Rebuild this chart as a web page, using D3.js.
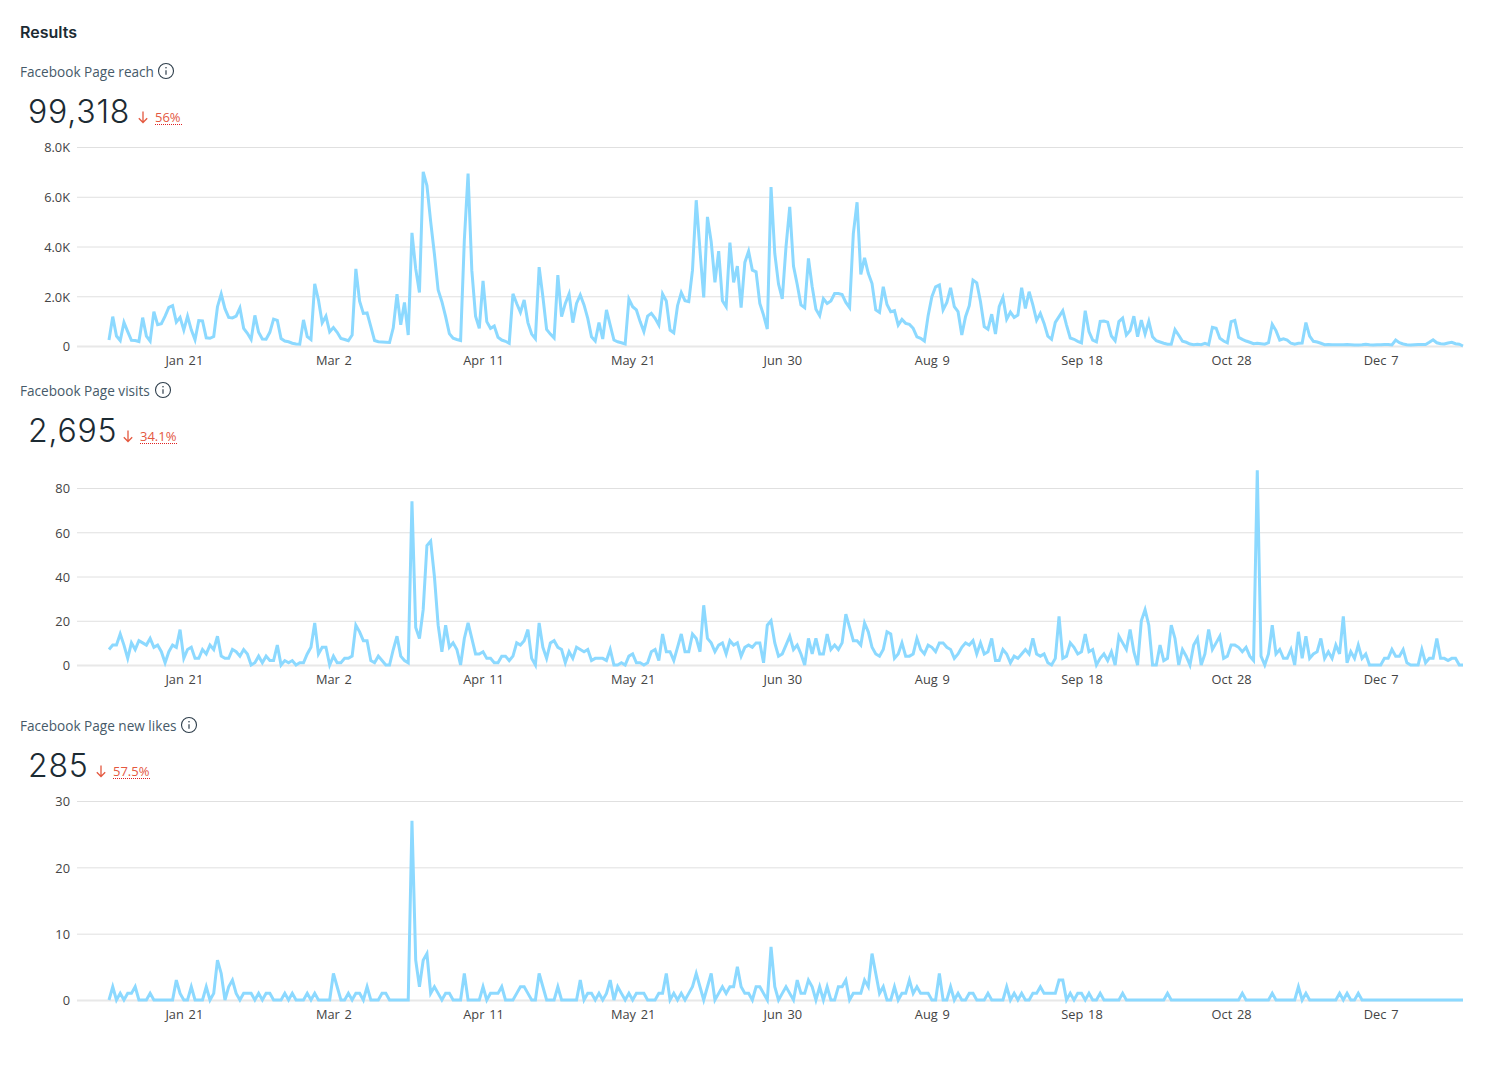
<!DOCTYPE html>
<html>
<head>
<meta charset="utf-8">
<title>Results</title>
<script src="https://cdn.jsdelivr.net/npm/d3@7"></script>
<style>
  html, body { margin: 0; background: #fff; }
  svg { display: block; }
  .tick text { font-family: "Open Sans", sans-serif; font-size: 12.8px; word-spacing: 1.5px; fill: #444; }
  .heading { font-family: Inter, sans-serif; font-size: 16px; font-weight: 600; fill: #1c2b33; }
  .metric { font-family: "Open Sans", sans-serif; font-size: 13.6px; fill: #465a69; }
  .total { font-family: Inter, sans-serif; font-size: 32px; font-weight: 300; letter-spacing: 0.8px; fill: #1c2b33; }
  .delta { font-family: "Open Sans", sans-serif; font-size: 13px; fill: #e4583f; }
</style>
</head>
<body>
<svg id="chart" width="1507" height="1069"></svg>
<script>
// Daily values, first of January onward
const reach = [
  240,1180,400,220,950,580,230,220,180,1140,
  400,200,1380,860,900,1200,1550,1620,960,1150,
  640,1200,650,250,1020,1010,330,310,380,1580,
  2090,1500,1150,1130,1200,1530,710,510,260,1230,
  550,280,270,550,1080,1030,300,200,170,110,
  80,70,1050,380,260,2500,1850,930,1200,570,
  740,550,300,260,210,440,3100,1800,1310,1330,
  780,220,170,160,150,140,730,2080,850,1750,
  440,4550,3100,2150,7000,6450,5000,3700,2250,1780,
  1180,500,310,260,220,4250,6930,3050,1200,710,
  2620,980,710,800,350,240,190,110,2100,1710,
  1350,1850,940,480,290,3170,1980,670,480,320,
  2850,1180,1710,2090,940,1710,2050,1650,1110,370,
  200,940,280,1450,840,240,170,130,80,1890,
  1580,1450,980,580,1200,1310,1110,840,2090,1810,
  640,530,1620,2150,1820,1780,3050,5860,3850,1950,
  5190,4190,2560,3810,1820,1580,4160,2560,3210,1540,
  3360,3810,3050,2980,1710,1240,680,6390,3720,2490,
  1890,3990,5590,3210,2470,1650,1540,3520,2380,1480,
  1220,1900,1710,1810,2110,2110,2070,1750,1540,4520,
  5780,2880,3540,2920,2510,1450,1350,2380,1670,1380,
  1420,840,1070,910,870,710,370,310,200,1220,
  1980,2380,2450,1450,1750,2340,1580,1380,440,1180,
  1620,2650,2540,1780,780,670,1280,480,1580,1950,
  1080,1360,1150,1240,2340,1510,2180,1650,1030,1310,
  910,400,270,950,1180,1420,840,320,270,190,
  130,1420,580,240,170,990,1000,960,400,210,
  980,1120,440,620,1200,370,1040,480,990,370,
  210,160,110,70,70,660,430,190,150,80,
  50,70,50,110,50,750,710,310,200,130,
  980,1030,350,270,200,150,90,110,90,70,
  130,870,620,240,290,240,110,70,110,120,
  940,400,190,160,110,50,60,50,50,50,
  50,60,50,40,40,50,70,50,40,50,
  50,60,60,40,240,130,80,50,40,50,
  60,60,60,150,250,130,90,80,120,150,
  90,70,0
];

const visits = [
  7,9,9,14,9,3,10,7,11,10,
  9,12,8,9,6,1,6,9,8,16,
  3,7,8,3,3,7,5,9,7,13,
  4,3,3,7,6,4,7,5,0,1,
  4,1,4,2,2,9,0,2,1,2,
  0,1,1,5,8,19,5,8,8,0,
  4,1,1,3,3,4,18,15,11,11,
  2,1,4,2,0,0,7,13,4,2,
  1,74,17,12,25,54,56,40,18,6,
  18,8,10,7,0,12,19,12,5,5,
  6,3,3,1,1,4,4,2,4,10,
  9,11,16,3,0,19,8,3,10,11,
  8,7,1,6,3,8,7,6,7,2,
  3,3,3,2,7,0,0,1,0,4,
  5,1,1,0,1,6,7,2,14,6,
  6,2,8,14,6,6,14,12,6,27,
  12,10,6,9,10,5,11,9,10,4,
  8,9,8,10,10,1,18,20,10,4,
  5,9,13,7,9,5,0,12,5,12,
  5,5,14,7,9,7,10,23,17,11,
  11,9,19,15,8,5,4,7,15,14,
  3,5,10,4,4,5,12,7,5,9,
  8,6,10,10,8,7,3,5,8,10,
  9,11,5,10,5,6,12,2,2,7,
  5,1,4,3,5,7,5,12,5,4,
  5,1,0,3,22,3,4,10,8,5,
  6,14,6,7,0,3,5,2,6,0,
  13,10,7,16,6,0,20,25,18,0,
  0,9,2,3,18,12,0,7,4,0,
  9,12,0,5,16,7,10,13,3,4,
  9,9,8,6,8,4,2,88,4,0,
  5,18,5,7,3,3,7,0,15,3,
  13,3,5,6,12,3,6,3,9,5,
  22,1,6,3,9,3,5,0,0,0,
  0,3,3,7,4,4,7,1,0,0,
  0,7,1,3,3,12,3,3,2,3,
  3,0,0
];

const likes = [
  0,2,0,1,0,1,1,2,0,0,
  0,1,0,0,0,0,0,0,3,1,
  0,0,2,0,0,0,2,0,1,6,
  4,0,2,3,1,0,1,1,1,0,
  1,0,1,1,0,0,0,1,0,1,
  0,0,0,1,0,1,0,0,0,0,
  4,2,0,0,1,0,1,1,0,2,
  0,0,0,1,1,0,0,0,0,0,
  0,27,6,2,6,7,1,2,1,0,
  1,1,0,0,0,4,0,0,0,0,
  2,0,1,1,1,2,0,0,0,1,
  2,2,1,0,0,4,2,0,0,0,
  2,0,0,0,0,0,3,0,1,1,
  0,1,0,1,3,0,2,1,0,1,
  0,1,1,1,0,0,0,1,1,4,
  0,1,0,1,0,1,2,4,2,0,
  2,4,0,1,2,1,2,2,5,2,
  1,1,0,2,2,1,0,8,2,0,
  1,2,1,0,3,1,1,3,2,0,
  2,0,2,0,0,2,2,3,0,1,
  1,1,3,2,7,4,1,2,0,0,
  2,0,1,1,3,1,2,1,1,1,
  0,0,4,0,0,2,0,1,0,0,
  1,1,0,0,0,1,0,0,0,0,
  2,0,1,0,1,0,0,1,1,2,
  1,1,1,1,3,3,0,1,0,1,
  1,0,1,0,0,1,0,0,0,0,
  0,1,0,0,0,0,0,0,0,0,
  0,0,0,1,0,0,0,0,0,0,
  0,0,0,0,0,0,0,0,0,0,
  0,0,0,1,0,0,0,0,0,0,
  0,1,0,0,0,0,0,0,2,0,
  1,0,0,0,0,0,0,0,0,1,
  0,1,0,0,1,0,0,0,0,0,
  0,0,0,0,0,0,0,0,0,0,
  0,0,0,0,0,0,0,0,0,0,
  0,0,0
];

const monthTicks = ["Jan 21", "Mar 2", "Apr 11", "May 21", "Jun 30", "Aug 9", "Sep 18", "Oct 28", "Dec 7"];
const reachTicks = [0, 2000, 4000, 6000, 8000];
const visitTicks = [0, 20, 40, 60, 80];
const likeTicks = [0, 10, 20, 30];

const lineColor = "#8cd9ff";
const year = 2021;
const firstDay = new Date(Date.UTC(year, 0, 1));
const dayOf = i => d3.utcDay.offset(firstDay, i);
const parseTick = d3.utcParse("%b %e %Y");

const svg = d3.select("#chart");

svg.append("text").attr("class", "heading").attr("x", 20).attr("y", 37.5).text("Results");

const x = d3.scaleUtc()
  .domain([firstDay, dayOf(reach.length - 1)])
  .range([109, 1463]);

const compact = v => v === 0 ? "0" : (v / 1000).toFixed(1) + "K";

// One titled panel: metric name, total, change against the prior period, and the daily line
function drawPanel(p) {
  const g = svg.append("g");
  const y = d3.scaleLinear().domain([0, p.max]).range([p.bottom, p.top]);

  // Metric name with its info badge
  g.append("text").attr("class", "metric").attr("x", 20).attr("y", p.titleY).text(p.title);
  const badge = g.append("g").attr("transform", `translate(${p.badgeX},${p.titleY - 6})`);
  badge.append("circle").attr("r", 7.5).attr("fill", "none").attr("stroke", "#2f3f4c").attr("stroke-width", 1.1);
  badge.append("line").attr("y1", -0.8).attr("y2", 3.8).attr("stroke", "#2f3f4c").attr("stroke-width", 1.2);
  badge.append("circle").attr("cy", -3.2).attr("r", 0.8).attr("fill", "#2f3f4c");

  // Total and its change
  g.append("text").attr("class", "total").attr("x", 28).attr("y", p.titleY + 46).text(p.total);
  const arrow = g.append("g").attr("transform", `translate(${p.arrowX},${p.titleY + 40})`)
    .attr("fill", "none").attr("stroke", "#e4583f").attr("stroke-width", 1.3);
  arrow.append("path").attr("d", "M0,-5.5V5.5M-4.2,1.3L0,5.5L4.2,1.3");
  g.append("text").attr("class", "delta").attr("x", p.arrowX + 12).attr("y", p.titleY + 45).text(p.change);
  g.append("line")
    .attr("x1", p.arrowX + 12).attr("x2", p.arrowX + 12 + p.changeWidth)
    .attr("y1", p.titleY + 47.5).attr("y2", p.titleY + 47.5)
    .attr("stroke", "#e02020").attr("stroke-width", 1).attr("stroke-dasharray", "1,1");

  // Gridlines and value labels
  const yAxis = g.append("g").attr("transform", "translate(77,0)")
    .call(d3.axisLeft(y).tickValues(p.ticks).tickFormat(p.format).tickSize(0).tickPadding(7));
  yAxis.select(".domain").remove();
  yAxis.selectAll(".tick text").attr("dy", "0.38em");
  yAxis.selectAll(".tick line")
    .attr("x2", 1386)
    .attr("stroke", d => d === 0 ? "#e8e8e8" : "#e0e0e0")
    .attr("stroke-width", d => d === 0 ? 2 : 1);

  // Date labels
  const xAxis = g.append("g").attr("transform", `translate(0,${p.bottom})`)
    .call(d3.axisBottom(x)
      .tickValues(monthTicks.map(t => parseTick(`${t} ${year}`)))
      .tickFormat(d3.utcFormat("%b %-d"))
      .tickSize(0).tickPadding(10));
  xAxis.select(".domain").remove();

  // Daily series
  const line = d3.line().x((d, i) => x(dayOf(i))).y(d => y(d));
  g.append("path").datum(p.values)
    .attr("d", line)
    .attr("fill", "none")
    .attr("stroke", lineColor)
    .attr("stroke-width", 3)
    .attr("stroke-linejoin", "miter")
    .attr("stroke-miterlimit", 4);
}

drawPanel({ title: "Facebook Page reach", titleY: 77, badgeX: 166, total: "99,318", change: "56%", changeWidth: 27,
  arrowX: 143, top: 147, bottom: 346, max: 8000, ticks: reachTicks, format: compact, values: reach });
drawPanel({ title: "Facebook Page visits", titleY: 396, badgeX: 163, total: "2,695", change: "34.1%", changeWidth: 37,
  arrowX: 128, top: 488, bottom: 665, max: 80, ticks: visitTicks, format: d3.format("d"), values: visits });
drawPanel({ title: "Facebook Page new likes", titleY: 731, badgeX: 189, total: "285", change: "57.5%", changeWidth: 37,
  arrowX: 101, top: 801, bottom: 1000, max: 30, ticks: likeTicks, format: d3.format("d"), values: likes });
</script>
</body>
</html>
